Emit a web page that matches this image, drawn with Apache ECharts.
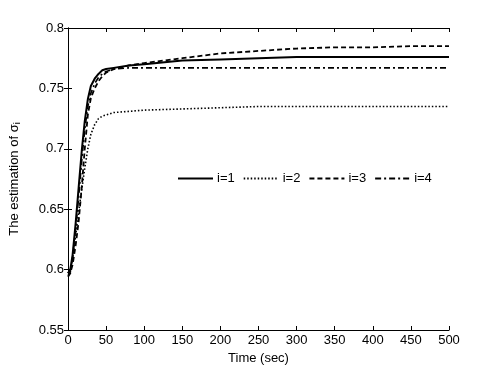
<!DOCTYPE html>
<html lang="en">
<head>
    <meta charset="UTF-8">
    <title>Estimation of sigma</title>
    <script src="https://cdn.jsdelivr.net/npm/echarts@6/dist/echarts.min.js"></script>
</head>
<body style="margin:0;background:#fff;">
<div id="main" style="width: 497px;height:372px;"></div>
<script type="text/javascript">
    // sample times (sec)
    var times = [0, 3, 6, 10, 14, 18, 22, 26, 30, 35, 40, 45, 50, 60, 80, 100, 150, 200, 250, 300, 350, 400, 450, 500];
    var sigma1 = [0.597, 0.600, 0.612, 0.638, 0.668, 0.698, 0.723, 0.741, 0.752, 0.758, 0.762, 0.765, 0.766, 0.767, 0.769, 0.770, 0.773, 0.774, 0.775, 0.776, 0.776, 0.776, 0.776, 0.776];
    var sigma2 = [0.597, 0.600, 0.608, 0.628, 0.648, 0.666, 0.684, 0.700, 0.712, 0.720, 0.725, 0.727, 0.728, 0.730, 0.731, 0.732, 0.733, 0.734, 0.735, 0.735, 0.735, 0.735, 0.735, 0.735];
    var sigma3 = [0.594, 0.597, 0.604, 0.620, 0.640, 0.668, 0.700, 0.728, 0.742, 0.750, 0.756, 0.760, 0.763, 0.766, 0.769, 0.771, 0.775, 0.779, 0.781, 0.783, 0.784, 0.784, 0.785, 0.785];
    var sigma4 = [0.595, 0.598, 0.610, 0.633, 0.660, 0.690, 0.716, 0.735, 0.746, 0.754, 0.759, 0.762, 0.764, 0.766, 0.767, 0.767, 0.767, 0.767, 0.767, 0.767, 0.767, 0.767, 0.767, 0.767];
    var names = ['i=1', 'i=2', 'i=3', 'i=4'];

    function pairs(ys) {
        return times.map(function (t, k) { return [t, ys[k]]; });
    }

    var font = 'Liberation Sans';
    var styles = [
        {type: 'solid', width: 2},
        {type: [1.5, 2], width: 1.6},
        {type: [5, 3], width: 1.8},
        {type: [6, 3, 2, 3], width: 1.6}
    ];
    var all = [sigma1, sigma2, sigma3, sigma4];

    var myChart = echarts.init(document.getElementById('main'));
    myChart.setOption({
        animation: false,
        grid: {left: 65, right: 48, top: 28, bottom: 42},
        legend: {
            data: names,
            left: 172, top: 167,
            itemWidth: 35, itemHeight: 10, itemGap: 8,
            itemStyle: {opacity: 0},
            textStyle: {fontFamily: font, fontSize: 13, color: '#000', padding: [0, 0, 0, -1]}
        },
        xAxis: [{
            type: 'value', min: 0, max: 500, interval: 50,
            name: 'Time (sec)', nameLocation: 'middle', nameGap: 21,
            nameTextStyle: {fontFamily: font, fontSize: 13, color: '#000'},
            axisLine: {lineStyle: {color: '#000', width: 1}},
            axisTick: {inside: true, length: 4, lineStyle: {color: '#000'}},
            axisLabel: {fontFamily: font, fontSize: 13, color: '#000', margin: 4},
            splitLine: {show: false}
        }, {
            type: 'value', min: 0, max: 500, interval: 50, position: 'top',
            axisLine: {show: true, lineStyle: {color: '#000', width: 1}},
            axisTick: {inside: true, length: 4, lineStyle: {color: '#000'}},
            axisLabel: {show: false}, splitLine: {show: false}
        }],
        yAxis: [{
            type: 'value', min: 0.55, max: 0.8, interval: 0.05,
            name: 'The estimation of {g|σ}{sub|i}', nameLocation: 'middle', nameGap: 46,
            nameTextStyle: {fontFamily: font, fontSize: 13, color: '#000',
                rich: {g: {fontFamily: font, fontSize: 13, color: '#000'},
                       sub: {fontFamily: font, fontSize: 9, color: '#000', verticalAlign: 'bottom', padding: [6, 0, 0, 0]}}},
            axisLine: {show: true, lineStyle: {color: '#000', width: 1}},
            axisTick: {show: true, inside: true, length: 4, lineStyle: {color: '#000'}},
            axisLabel: {fontFamily: font, fontSize: 13, color: '#000', margin: 4,
                formatter: function (v) { return String(+v.toFixed(2)); }},
            splitLine: {show: false}
        }, {
            type: 'value', min: 0.55, max: 0.8, interval: 0.05, position: 'right',
            axisLine: {show: true, lineStyle: {color: '#000', width: 1}},
            axisTick: {show: true, inside: true, length: 4, lineStyle: {color: '#000'}},
            axisLabel: {show: false}, splitLine: {show: false}
        }],
        series: all.map(function (ys, k) {
            return {
                name: names[k], type: 'line', data: pairs(ys),
                showSymbol: false, symbol: 'none', smooth: false,
                lineStyle: {color: '#000', type: styles[k].type, width: styles[k].width},
                itemStyle: {color: '#000'}
            };
        })
    });
</script>
</body>
</html>
